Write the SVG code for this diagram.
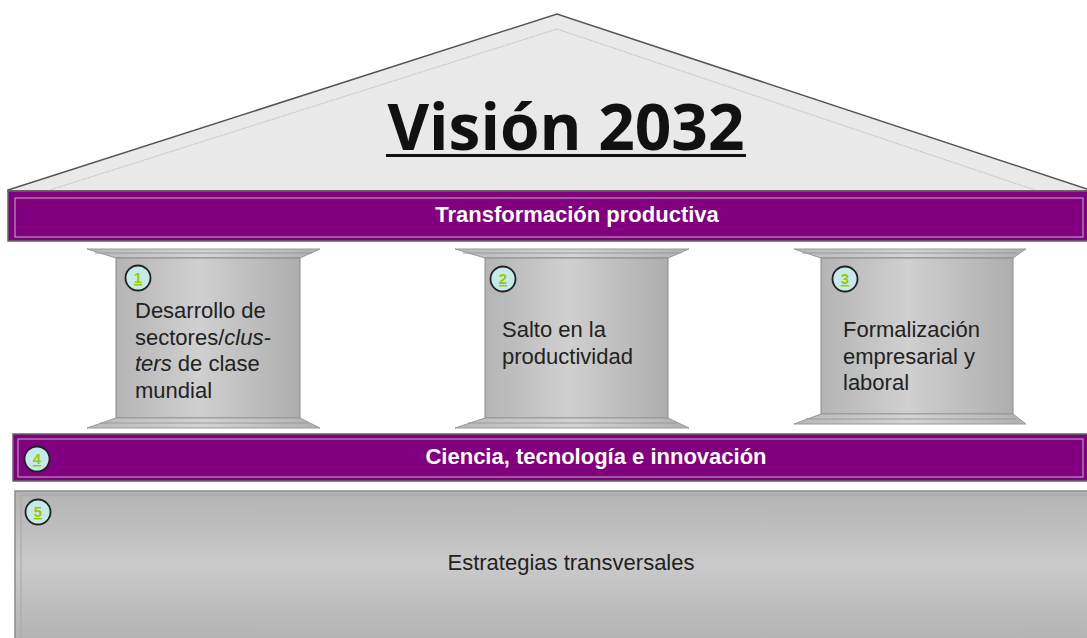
<svg xmlns="http://www.w3.org/2000/svg" width="1087" height="638" viewBox="0 0 1087 638">
<defs>
<linearGradient id="shaft" x1="0" y1="0" x2="1" y2="0">
<stop offset="0" stop-color="#b4b4b4"/>
<stop offset="0.45" stop-color="#d0d0d0"/>
<stop offset="1" stop-color="#aeaeae"/>
</linearGradient>
<linearGradient id="cap" x1="0" y1="0" x2="1" y2="0">
<stop offset="0" stop-color="#b8b8b8"/>
<stop offset="0.5" stop-color="#d4d4d4"/>
<stop offset="1" stop-color="#b0b0b0"/>
</linearGradient>
<linearGradient id="base" x1="0" y1="0" x2="0" y2="1">
<stop offset="0" stop-color="#b3b3b3"/>
<stop offset="0.5" stop-color="#cacaca"/>
<stop offset="1" stop-color="#b3b3b3"/>
</linearGradient>
</defs>
<style>
.roof{fill:#e9e9e9;stroke:#555;stroke-width:1.5}
.roofin{fill:none;stroke:#bbb;stroke-width:1;stroke-dasharray:1.5 1}
.bar{fill:#800080;stroke:#666;stroke-width:1.5}
.barin{fill:none;stroke:#b39ab3;stroke-width:1.2}
.bartxt{font-family:"Liberation Sans",Arial,sans-serif;font-weight:bold;font-size:22px;fill:#fff;text-anchor:middle}
.shaft{fill:url(#shaft);stroke:#8a8a8a;stroke-width:1}
.cap{fill:url(#cap);stroke:#999;stroke-width:1}
.capl{stroke:#9a9a9a;stroke-width:1}
.txt{font-family:"Liberation Sans",Arial,sans-serif;font-size:22px;fill:#222}
.badge{fill:#c6eaea;stroke:#222;stroke-width:1.8}
.num{font-family:"Liberation Sans",Arial,sans-serif;font-size:15px;font-weight:bold;fill:#99cc00;text-anchor:middle;text-decoration:underline}
.title{font-family:"Open Sans","DejaVu Sans",sans-serif;font-weight:bold;font-size:64px;fill:#111;text-anchor:middle}
</style>
<rect width="1087" height="638" fill="#fff"/>

<g id="roof">
<polygon class="roof" points="8,190 557,14 1087,189 1087,191 8,191"/>
<polyline class="roofin" points="50,190 557,29 1035,190"/>
<text class="title" x="566" y="150" textLength="357" lengthAdjust="spacingAndGlyphs">Visión 2032</text>
<line x1="386" y1="155.5" x2="746" y2="155.5" stroke="#111" stroke-width="3"/>
</g>

<g id="bar-transformacion">
<rect class="bar" x="8" y="191" width="1080" height="50"/>
<rect class="barin" x="15" y="198" width="1068" height="39"/>
<text class="bartxt" x="577" y="222">Transformación productiva</text>
</g>

<g id="pillar-1">
<polygon class="cap" points="87,249 320,249 300,258 116,258"/>
<line class="capl" x1="95" y1="253" x2="312" y2="253"/>
<rect class="shaft" x="116" y="258" width="184" height="160"/>
<polygon class="cap" points="116,418 300,418 320,428 87,428"/>
<line class="capl" x1="100" y1="423" x2="308" y2="423"/>
<circle class="badge" cx="138" cy="278" r="12.5"/>
<text class="num" x="138" y="283">1</text>
<text class="txt" x="135" y="318">Desarrollo de</text>
<text class="txt" x="135" y="345">sectores/<tspan font-style="italic">clus-</tspan></text>
<text class="txt" x="135" y="371"><tspan font-style="italic">ters</tspan> de clase</text>
<text class="txt" x="135" y="398">mundial</text>
</g>

<g id="pillar-2">
<polygon class="cap" points="455,249 689,249 668,258 485,258"/>
<line class="capl" x1="463" y1="253" x2="681" y2="253"/>
<rect class="shaft" x="485" y="258" width="183" height="160"/>
<polygon class="cap" points="485,418 668,418 689,428 455,428"/>
<line class="capl" x1="468" y1="423" x2="677" y2="423"/>
<circle class="badge" cx="503" cy="279" r="12.5"/>
<text class="num" x="503" y="284">2</text>
<text class="txt" x="502" y="337">Salto en la</text>
<text class="txt" x="502" y="364">productividad</text>
</g>

<g id="pillar-3">
<polygon class="cap" points="794,249 1026,249 1013,258 821,258"/>
<line class="capl" x1="802" y1="253" x2="1018" y2="253"/>
<rect class="shaft" x="821" y="258" width="192" height="156"/>
<polygon class="cap" points="821,414 1013,414 1026,424 794,424"/>
<line class="capl" x1="806" y1="419" x2="1016" y2="419"/>
<circle class="badge" cx="845" cy="279" r="12.5"/>
<text class="num" x="845" y="284">3</text>
<text class="txt" x="843" y="337">Formalización</text>
<text class="txt" x="843" y="364">empresarial y</text>
<text class="txt" x="843" y="390">laboral</text>
</g>

<g id="bar-ciencia">
<rect class="bar" x="13" y="434" width="1075" height="47"/>
<rect class="barin" x="18" y="439" width="1065" height="38"/>
<circle class="badge" cx="37" cy="459" r="12.5"/>
<text class="num" x="37" y="464">4</text>
<text class="bartxt" x="596" y="464">Ciencia, tecnología e innovación</text>
</g>

<g id="base-estrategias">
<rect x="15" y="491" width="1073" height="148" fill="url(#base)" stroke="#8c8c8c" stroke-width="1.5"/>
<rect x="21" y="495" width="1067" height="145" fill="none" stroke="#a8a8a8" stroke-width="1"/>
<circle class="badge" cx="38" cy="512" r="12.5"/>
<text class="num" x="38" y="517">5</text>
<text class="txt" x="571" y="570" text-anchor="middle">Estrategias transversales</text>
</g>

<g id="connectors"></g>
</svg>
